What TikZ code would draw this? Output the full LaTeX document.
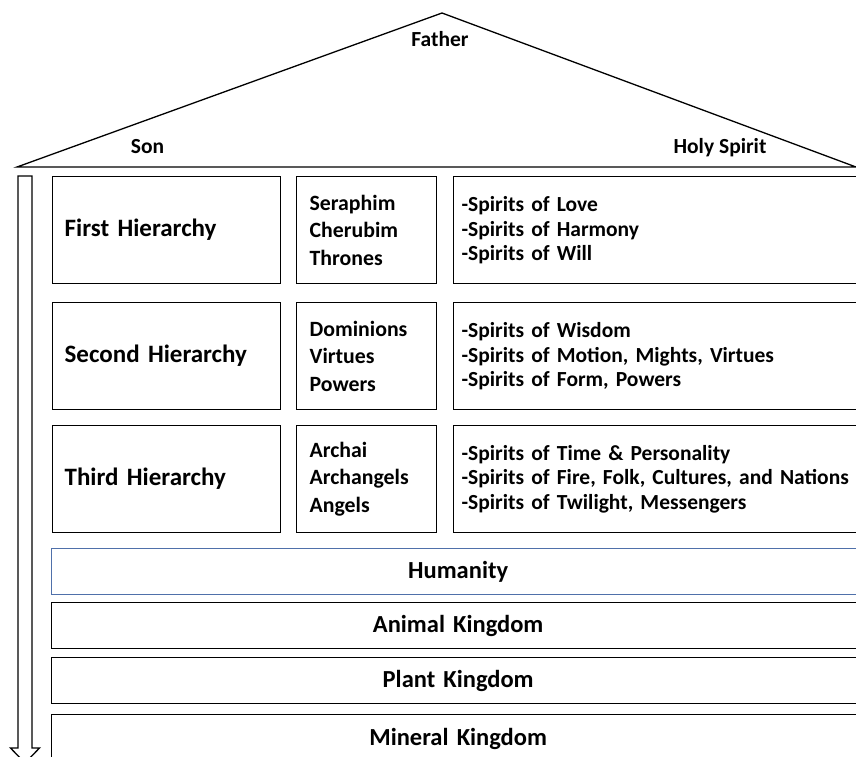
\documentclass[tikz,border=0pt]{standalone}
\usepackage{fontspec}
\setmainfont{Carlito}
\definecolor{humanblue}{RGB}{79,112,170}

\begin{document}
\begin{tikzpicture}[x=1pt, y=-1pt,
    every node/.style={font=\bfseries},
    rooftext/.style={font=\fontsize{21.5}{24}\selectfont\bfseries},
    hbox/.style={draw, line width=1.3pt, anchor=north west, align=left, inner xsep=12pt, text width=204pt, minimum height=107pt, font=\fontsize{25}{30}\selectfont\bfseries},
    cbox/.style={draw, line width=1.3pt, anchor=north west, align=left, inner xsep=13pt, text width=114pt, minimum height=107pt, font=\fontsize{21.8}{27.3}\selectfont\bfseries},
    sbox/.style={draw, line width=1.3pt, anchor=north west, align=left, inner xsep=8pt, text width=395pt, minimum height=107pt, font=\fontsize{21.5}{24.7}\selectfont\bfseries},
    kbox/.style={draw, line width=1.3pt, anchor=north west, align=center, text width=797pt, inner xsep=8pt, minimum height=46pt, font=\fontsize{24.5}{28}\selectfont\bfseries}]
      \clip (0,0) rectangle (856,756);
      % roof
      \draw[line width=1.3pt] (17,167) -- (442,13) -- (856,167) -- cycle;
      \node[rooftext] (father) at (440,39) {Father};
      \node[rooftext] (son) at (147.5,147) {Son};
      \node[rooftext] (spirit) at (720,148) {Holy Spirit};
      % arrow down the left side
      \draw[line width=1.3pt] (18,176) -- (32,176) -- (32,748) -- (39.5,748) -- (25,763) -- (10.5,748) -- (18,748) -- cycle;
      % hierarchies
      \node[hbox] (h1) at (52,176) {First Hierarchy};
      \node[hbox] (h2) at (52,302) {Second Hierarchy};
      \node[hbox] (h3) at (52,425) {Third Hierarchy};
      \node[cbox] (c1) at (296,176) {Seraphim\\Cherubim\\Thrones};
      \node[cbox] (c2) at (296,302) {Dominions\\Virtues\\Powers};
      \node[cbox] (c3) at (296,425) {Archai\\Archangels\\Angels};
      \node[sbox] (s1) at (453,176) {-Spirits of Love\\-Spirits of Harmony\\-Spirits of Will};
      \node[sbox] (s2) at (453,302) {-Spirits of Wisdom\\-Spirits of Motion, Mights, Virtues\\-Spirits of Form, Powers};
      \node[sbox] (s3) at (453,425) {-Spirits of Time \& Personality\\-Spirits of Fire, Folk, Cultures, and Nations\\-Spirits of Twilight, Messengers};
      % kingdoms
      \node[kbox, draw=humanblue] (humanity) at (51,548) {Humanity};
      \node[kbox] (animal) at (51,602) {Animal Kingdom};
      \node[kbox] (plant) at (51,657) {Plant Kingdom};
      \node[kbox, minimum height=48pt] (mineral) at (51,714) {Mineral Kingdom};
\end{tikzpicture}
\end{document}
